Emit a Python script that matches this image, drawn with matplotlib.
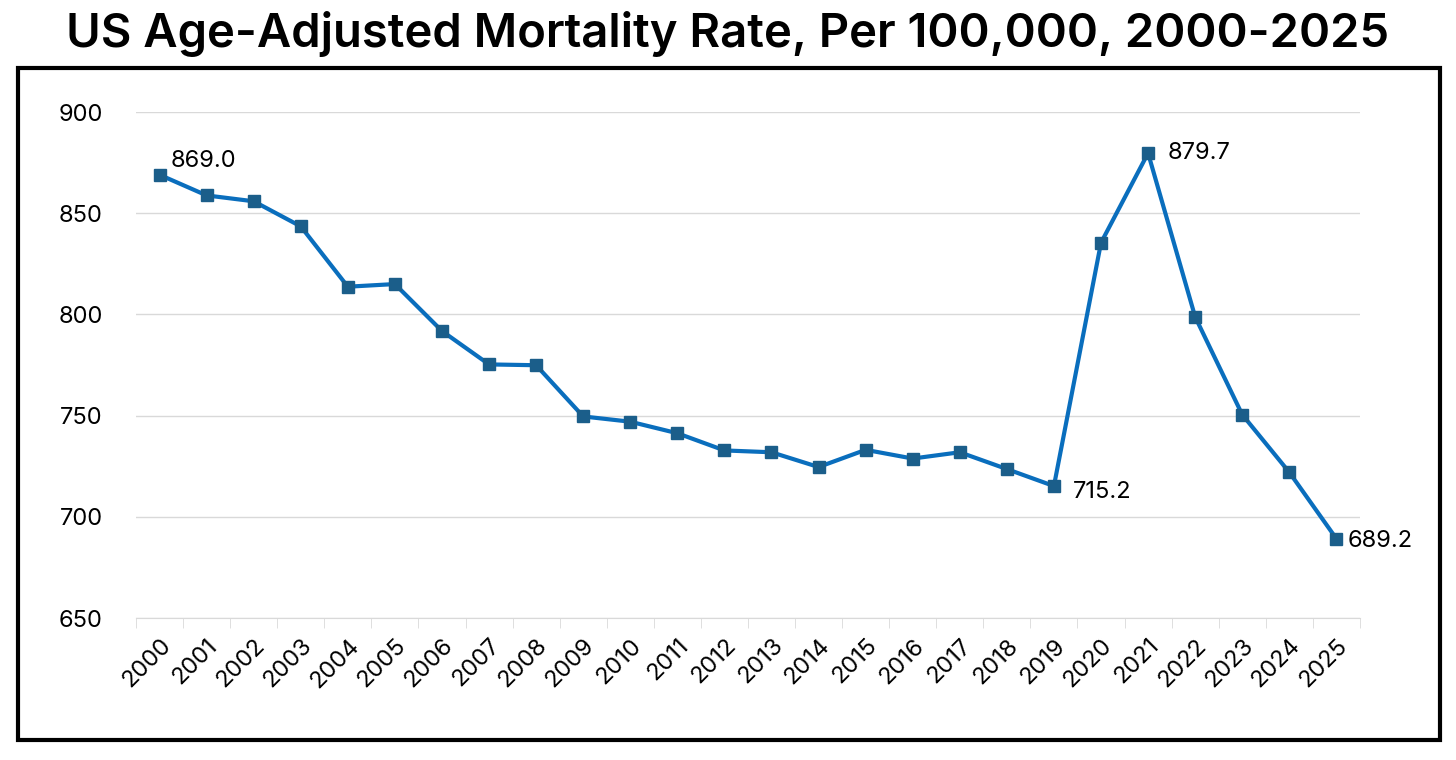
import numpy as np
import matplotlib.pyplot as plt
from matplotlib.patches import Rectangle

years = [str(y) for y in range(2000, 2026)]
rates = [869.0, 858.8, 855.9, 843.5, 813.7, 815.0, 791.8, 775.3, 774.9, 749.6,
         747.0, 741.3, 732.8, 731.9, 724.6, 733.1, 728.8, 731.9, 723.6, 715.2,
         835.4, 879.7, 798.8, 750.5, 722.0, 689.2]
labelled = {'2000': (8, 2, 'bottom'), '2019': (14, -4, 'center'),
            '2021': (14, 0, 'center'), '2025': (8, -2, 'center')}

plt.rcParams['font.family'] = ['Inter', 'DejaVu Sans']

fig = plt.figure(figsize=(14.56, 7.6), dpi=100)
fig.patches.append(Rectangle((0.0124, 0.0263), 0.9766, 0.8842, transform=fig.transFigure,
                             fill=False, edgecolor='black', linewidth=3))
fig.text(0.5, 0.955, 'US Age-Adjusted Mortality Rate, Per 100,000, 2000-2025',
         ha='center', va='center', fontsize=34, fontweight='semibold')

ax = fig.add_axes([0.0934, 0.1868, 0.8406, 0.6658])
x = np.arange(len(years))
ax.plot(x, rates, color='#0A6EBD', linewidth=3, marker='s', markersize=8,
        markerfacecolor='#1B5E8A', markeredgecolor='#1B5E8A', zorder=3)

for i, yr in enumerate(years):
    if yr in labelled:
        dx, dy, va = labelled[yr]
        ax.annotate(f'{rates[i]:.1f}', (x[i], rates[i]), xytext=(dx, dy),
                    textcoords='offset points', ha='left', va=va, fontsize=17)

ax.set_xlim(-0.5, len(years) - 0.5)
ax.set_ylim(650, 900)
ax.set_yticks(np.arange(650, 901, 50))
ax.yaxis.grid(True, color='#D9D9D9', linewidth=1)
ax.set_axisbelow(True)
ax.set_xticks(x)
ax.set_xticklabels(years, rotation=45, ha='right', rotation_mode='anchor', fontsize=17)
ax.set_xticks(np.arange(-0.5, len(years), 1), minor=True)
ax.tick_params(axis='x', which='major', length=0, pad=12)
ax.tick_params(axis='x', which='minor', length=7, color='#D9D9D9')
ax.tick_params(axis='y', length=0, labelsize=17, pad=24)
for s in ['top', 'right', 'left']:
    ax.spines[s].set_visible(False)
ax.spines['bottom'].set_color('#D9D9D9')

fig.savefig('out.png', dpi=100)
